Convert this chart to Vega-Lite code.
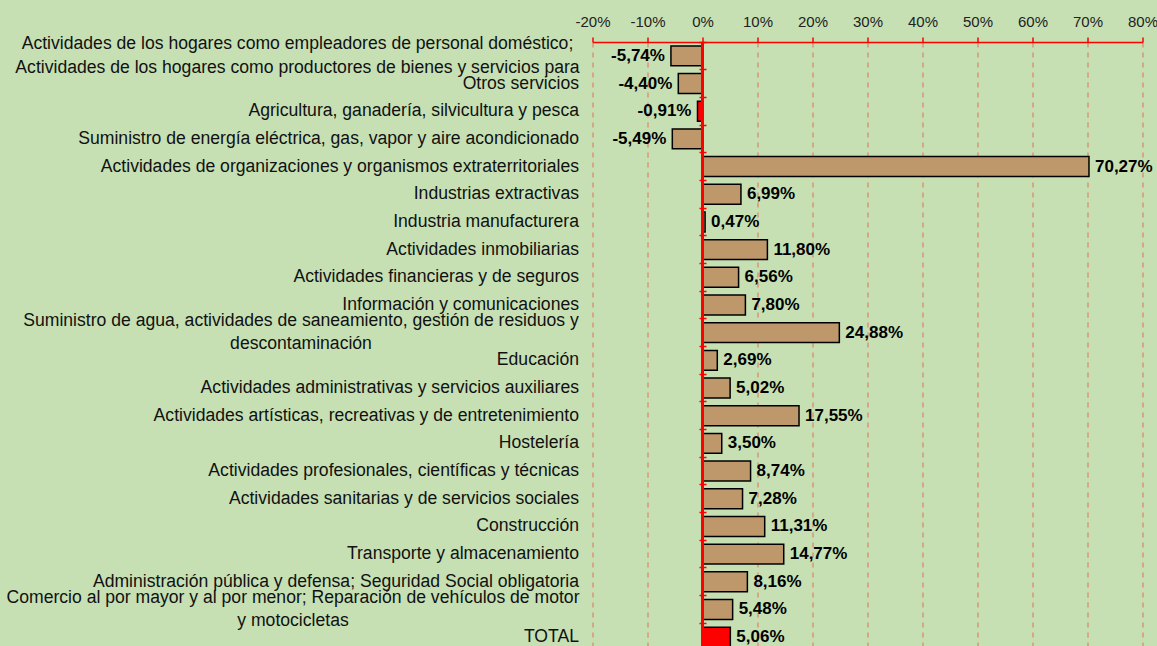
{
  "$schema": "https://vega.github.io/schema/vega-lite/v6.json",
  "width": 550,
  "height": 609,
  "autosize": {"type": "none"},
  "padding": {"left": 592.5, "top": 42, "right": 14.5, "bottom": 0},
  "background": "#C6E0B4",
  "config": {
    "view": {"stroke": null},
    "font": "Liberation Sans",
    "locale": {"number": {"decimal": ",", "thousands": ".", "grouping": [3], "currency": ["", " €"], "minus": "-"}}
  },
  "data": {
    "values": [
      {"cat": "Actividades de los hogares como empleadores de personal doméstico;|Actividades de los hogares como productores de bienes y servicios para", "v": -0.0574},
      {"cat": "Otros servicios", "v": -0.044},
      {"cat": "Agricultura, ganadería, silvicultura y pesca", "v": -0.0091},
      {"cat": "Suministro de energía eléctrica, gas, vapor y aire acondicionado", "v": -0.0549},
      {"cat": "Actividades de organizaciones y organismos extraterritoriales", "v": 0.7027},
      {"cat": "Industrias extractivas", "v": 0.0699},
      {"cat": "Industria manufacturera", "v": 0.0047},
      {"cat": "Actividades inmobiliarias", "v": 0.118},
      {"cat": "Actividades financieras y de seguros", "v": 0.0656},
      {"cat": "Información y comunicaciones", "v": 0.078},
      {"cat": "Suministro de agua, actividades de saneamiento, gestión de residuos y|descontaminación", "v": 0.2488},
      {"cat": "Educación", "v": 0.0269},
      {"cat": "Actividades administrativas y servicios auxiliares", "v": 0.0502},
      {"cat": "Actividades artísticas, recreativas y de entretenimiento", "v": 0.1755},
      {"cat": "Hostelería", "v": 0.035},
      {"cat": "Actividades profesionales, científicas y técnicas", "v": 0.0874},
      {"cat": "Actividades sanitarias y de servicios sociales", "v": 0.0728},
      {"cat": "Construcción", "v": 0.1131},
      {"cat": "Transporte y almacenamiento", "v": 0.1477},
      {"cat": "Administración pública y defensa; Seguridad Social obligatoria", "v": 0.0816},
      {"cat": "Comercio al por mayor y al por menor; Reparación de vehículos de motor|y motocicletas", "v": 0.0548},
      {"cat": "TOTAL", "v": 0.0506}
    ]
  },
  "layer": [
    {
      "mark": {"type": "bar", "stroke": "#000000", "strokeWidth": 1.5},
      "encoding": {
        "y": {
          "field": "cat", "type": "nominal", "sort": null,
          "scale": {"paddingInner": 0.28, "paddingOuter": 0.14},
          "axis": {
            "title": null, "domain": false, "ticks": false, "grid": false,
            "labelExpr": "split(datum.value, '|')",
            "labelFontSize": 17.6, "labelColor": "#111111", "labelLimit": 2000,
            "labelLineHeight": 23.5,
            "labelAlign": {"condition": {"test": "indexof(datum.value, '|') >= 0", "value": "center"}, "value": "right"},
            "labelOffset": {"condition": {"test": "indexof(datum.value, '|') >= 0", "value": -11.75}, "value": 0},
            "labelPadding": {"condition": [
              {"test": "indexof(datum.value, 'Actividades de los hogares') == 0", "value": 295.5},
              {"test": "indexof(datum.value, 'Suministro de agua') == 0", "value": 292},
              {"test": "indexof(datum.value, 'Comercio al por mayor') == 0", "value": 300}
            ], "value": 14}
          }
        },
        "x": {
          "field": "v", "type": "quantitative",
          "scale": {"domain": [-0.2, 0.8], "nice": false},
          "axis": {
            "orient": "top", "title": null, "format": ".0%",
            "values": [-0.2, -0.1, 0, 0.1, 0.2, 0.3, 0.4, 0.5, 0.6, 0.7, 0.8],
            "labelFlush": false, "labelOverlap": false,
            "domainColor": "#FF0000", "domainWidth": 1.5,
            "tickColor": "#FF0000", "tickWidth": 1.5, "tickSize": 5,
            "labelFontSize": 15, "labelColor": "#222222", "labelPadding": 8,
            "grid": true, "gridColor": "#FF0000", "gridOpacity": 0.5, "gridDash": [5, 5], "gridWidth": 1
          }
        },
        "color": {
          "condition": {"test": "datum.cat === 'TOTAL' || datum.cat === 'Agricultura, ganadería, silvicultura y pesca'", "value": "#FF0000"},
          "value": "#BE986A"
        }
      }
    },
    {
      "mark": {"type": "rule", "color": "#FF0000", "strokeWidth": 2.5},
      "encoding": {"x": {"datum": 0}}
    },
    {
      "mark": {
        "type": "text", "fontWeight": "bold", "fontSize": 17, "color": "#000000",
        "align": {"expr": "datum.v < 0 ? 'right' : 'left'"},
        "dx": {"expr": "datum.v < 0 ? -6 : 6"}
      },
      "encoding": {
        "y": {
          "field": "cat", "type": "nominal", "sort": null,
          "axis": {
            "orient": "left", "title": null, "labels": false, "domain": false, "grid": false,
            "ticks": true, "tickColor": "#FF0000", "tickWidth": 1.5, "tickSize": 7,
            "bandPosition": -0.194,
            "offset": {"expr": "-scale('x', 0) - 3.5"}
          }
        },
        "x": {"field": "v", "type": "quantitative"},
        "text": {"field": "v", "type": "quantitative", "format": ".2%"}
      }
    }
  ],
  "resolve": {"axis": {"y": "independent"}}
}
